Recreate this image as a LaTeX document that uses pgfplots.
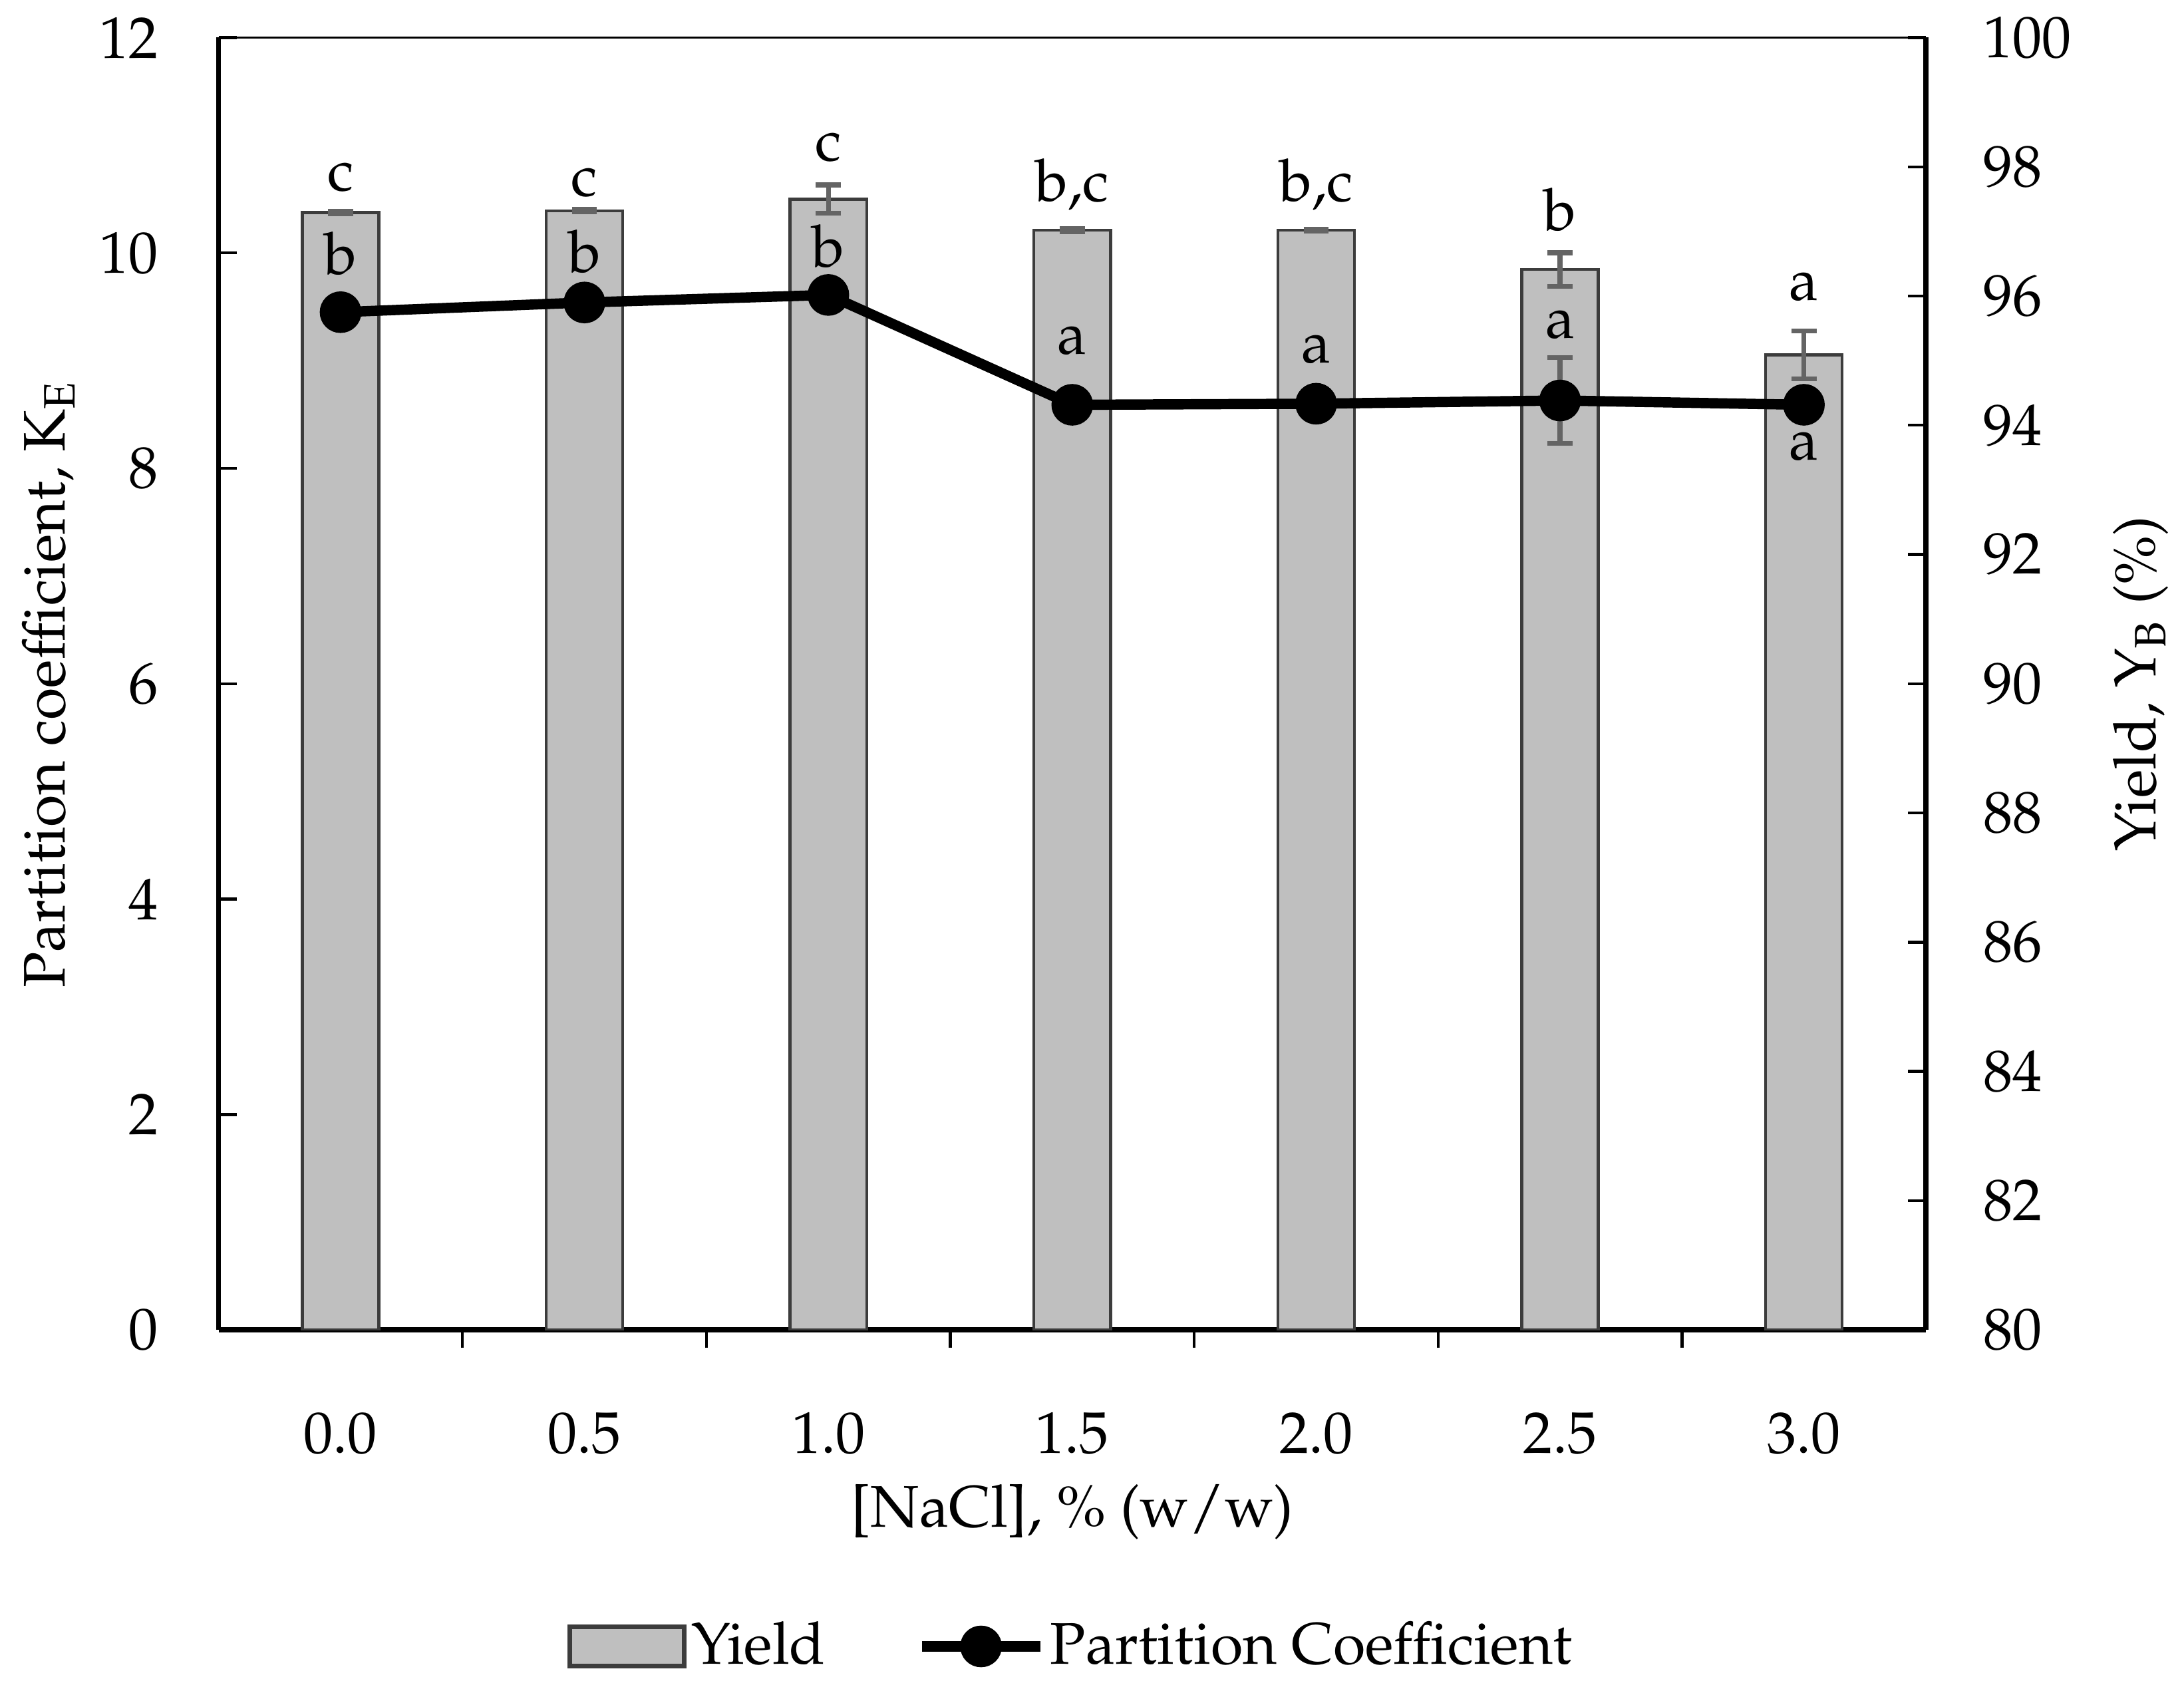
\documentclass[border=0pt]{standalone}
\usepackage[T1]{fontenc}
\usepackage{mathpazo}
\usepackage{pgfplots}
\pgfplotsset{compat=1.18}
\definecolor{barfill}{RGB}{191,191,191}
\definecolor{baredge}{RGB}{60,60,60}
\definecolor{errgray}{RGB}{100,100,100}
\pgfplotsset{
  barlegend/.style={legend image code/.code={\draw[##1] (0cm,-0.14cm) rectangle (0.82cm,0.14cm);}},
  linelegend/.style={legend image code/.code={\draw[##1, mark repeat=2, mark phase=2]
    plot coordinates {(0cm,0cm) (0.425cm,0cm) (0.85cm,0cm)};}},
}

\begin{document}
\begin{tikzpicture}[font=\fontsize{12}{14}\selectfont]
\pgfplotsset{
  common/.style={
    width=12.26cm, height=9.28cm, scale only axis,
    xmin=-0.5, xmax=6.5,
    tick align=inside,
    major tick length=1.3mm, minor tick length=1.3mm,
    tick style={black, line width=0.6pt},
    tick label style={font=\fontsize{12}{14}\selectfont},
    axis line style={-},
  }
}
% bars: yield, right axis
\begin{axis}[common, name=main,
  ybar, bar width=0.314,
  ymin=80, ymax=100, ytick={80,82,...,100},
  axis x line*=bottom, axis y line*=right,
  x axis line style={line width=1pt},
  y axis line style={line width=1pt},
  xtick={0,...,6},
  xticklabels={0.0,0.5,1.0,1.5,2.0,2.5,3.0},
  minor xtick={0.5,1.5,...,5.5},
  major x tick style={draw=none},
  xticklabel style={yshift=-3.4mm},
  yticklabel style={xshift=2.9mm},
  xlabel={{[NaCl]}, \% (w/w)},
  xlabel style={at={(axis description cs:0.5,-0.141)}, anchor=center},
  ylabel={Yield, Y\textsubscript{B} (\%)},
  ylabel style={at={(axis description cs:1.1256,0.5)}, anchor=center},
]
\addplot[fill=barfill, draw=baredge, line width=0.6pt,
  error bars/.cd, y dir=both, y explicit,
  error bar style={errgray, line width=1pt},
  error mark options={errgray, rotate=90, mark size=0.9mm, line width=1pt}]
  coordinates {
  (0,97.29) +- (0,0.02)
  (1,97.32) +- (0,0.02)
  (2,97.50) +- (0,0.22)
  (3,97.02) +- (0,0.02)
  (4,97.02) +- (0,0.01)
  (5,96.41) +- (0,0.26)
  (6,95.09) +- (0,0.37)
  };
\end{axis}
% line: partition coefficient, left axis
\begin{axis}[common,
  ymin=0, ymax=12, ytick={0,2,...,12},
  axis x line*=top, axis y line*=left,
  x axis line style={line width=0.4pt},
  y axis line style={line width=1pt},
  xtick=\empty,
  yticklabel style={xshift=-3.1mm},
  ylabel={Partition coefficient, K\textsubscript{E}},
  ylabel style={at={(axis description cs:-0.0995,0.5)}, anchor=center},
  legend style={at={(axis description cs:0.5,-0.245)}, anchor=center,
    draw=none, fill=none, legend columns=2,
    font=\fontsize{12}{14}\selectfont,
    nodes={inner xsep=1pt},
    /tikz/every even column/.append style={column sep=6.2mm}},
]
\addlegendimage{fill=barfill, draw=baredge, line width=1pt, barlegend}
\addlegendentry{Yield}
\addplot[draw=none, mark=none, forget plot,
  error bars/.cd, y dir=both, y explicit,
  error bar style={errgray, line width=1pt},
  error mark options={errgray, rotate=90, mark size=0.9mm, line width=1pt}]
  coordinates {
  (0,9.45) +- (0,0.03)
  (1,9.54) +- (0,0.03)
  (2,9.61) +- (0,0.03)
  (3,8.59) +- (0,0.12)
  (4,8.60) +- (0,0.03)
  (5,8.63) +- (0,0.40)
  (6,8.59) +- (0,0.05)
  };
\addplot[black, line width=2.1pt, mark=*, mark size=3.2pt, linelegend]
  coordinates {
  (0,9.45) (1,9.54) (2,9.61) (3,8.59) (4,8.60) (5,8.63) (6,8.59)
  };
\addlegendentry{Partition Coefficient}
% significance letters
\node[anchor=base] at (axis cs:0,10.58) {c};
\node[anchor=base] at (axis cs:1,10.53) {c};
\node[anchor=base] at (axis cs:2,10.86) {c};
\node[anchor=base] at (axis cs:3,10.48) {b,c};
\node[anchor=base] at (axis cs:4,10.48) {b,c};
\node[anchor=base] at (axis cs:5,10.21) {b};
\node[anchor=base] at (axis cs:6,9.56) {a};
\node[anchor=base] at (axis cs:0,9.80) {b};
\node[anchor=base] at (axis cs:1,9.82) {b};
\node[anchor=base] at (axis cs:2,9.87) {b};
\node[anchor=base] at (axis cs:3,9.06) {a};
\node[anchor=base] at (axis cs:4,8.98) {a};
\node[anchor=base] at (axis cs:5,9.21) {a};
\node[anchor=base] at (axis cs:6,8.08) {a};
\end{axis}
\path ([shift={(-15.7mm,-25.5mm)}]main.south west) rectangle ([shift={(18.5mm,2.7mm)}]main.north east);
\end{tikzpicture}
\end{document}
